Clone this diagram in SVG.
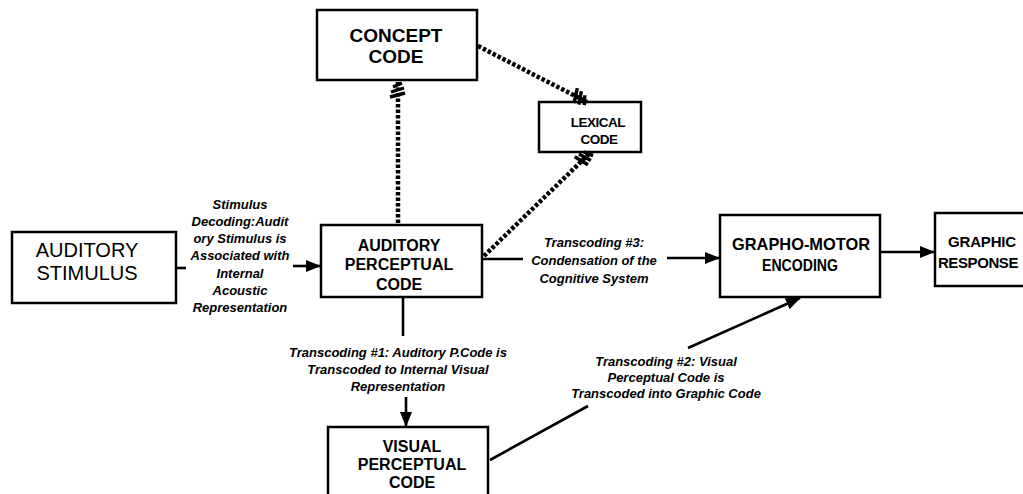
<svg xmlns="http://www.w3.org/2000/svg" width="1023" height="494" viewBox="0 0 1023 494">
<style>
.box{fill:#fff;stroke:#000;stroke-width:2.5}
.nt{font-family:"Liberation Sans",Arial,sans-serif;font-weight:bold;text-anchor:middle;fill:#000}
.lb{font-family:"Liberation Sans",Arial,sans-serif;font-weight:bold;font-style:italic;font-size:13px;text-anchor:middle;fill:#000}
.ln{fill:none;stroke:#000;stroke-width:2.6}
.ds{fill:none;stroke:#000;stroke-width:4.5;stroke-dasharray:3.5 2}
</style>
<defs>
<marker id="arr" markerUnits="userSpaceOnUse" markerWidth="15" markerHeight="12" refX="14" refY="6" orient="auto">
<path d="M0,0 L15,6 L0,12 z" fill="#000"/>
</marker>
<marker id="hatch" markerUnits="userSpaceOnUse" markerWidth="24" markerHeight="24" refX="20" refY="12" orient="auto">
<path d="M15,7 L19,16 M10,5 L14,18 M5,4 L9,19" stroke="#000" stroke-width="3.4" fill="none"/>
</marker>
</defs>
<g id="concept-code">
<rect class="box" x="317" y="10" width="160" height="70"/>
<text class="nt" font-size="19" x="396" y="42">CONCEPT</text>
<text class="nt" font-size="19" x="396" y="63">CODE</text>
</g>
<g id="lexical-code">
<rect class="box" x="539" y="102" width="102" height="50"/>
<text class="nt" font-size="13.5" letter-spacing="-0.5" x="598" y="127">LEXICAL</text>
<text class="nt" font-size="13.5" letter-spacing="-0.5" x="599" y="144">CODE</text>
</g>
<g id="auditory-stimulus">
<rect class="box" x="12" y="232" width="164" height="71"/>
<text class="nt" font-size="20" x="87" y="257" style="font-weight:normal">AUDITORY</text>
<text class="nt" font-size="20" x="87" y="280" style="font-weight:normal">STIMULUS</text>
</g>
<g id="auditory-perceptual-code">
<rect class="box" x="321" y="225" width="161" height="72"/>
<text class="nt" font-size="16" x="399" y="251">AUDITORY</text>
<text class="nt" font-size="16" x="399" y="270">PERCEPTUAL</text>
<text class="nt" font-size="16" x="399" y="290">CODE</text>
</g>
<g id="grapho-motor-encoding">
<rect class="box" x="720" y="215" width="160" height="82"/>
<text class="nt" font-size="17" x="801" y="250" textLength="138" lengthAdjust="spacingAndGlyphs">GRAPHO-MOTOR</text>
<text class="nt" font-size="17" x="800" y="271" textLength="76" lengthAdjust="spacingAndGlyphs">ENCODING</text>
</g>
<g id="graphic-response">
<rect class="box" x="935" y="213" width="100" height="73"/>
<text class="nt" font-size="15" letter-spacing="-0.2" x="982" y="247">GRAPHIC</text>
<text class="nt" font-size="15" letter-spacing="-0.4" x="978" y="268">RESPONSE</text>
</g>
<g id="visual-perceptual-code">
<rect class="box" x="328" y="427" width="160" height="80"/>
<text class="nt" font-size="16" x="412" y="452">VISUAL</text>
<text class="nt" font-size="16" x="412" y="470">PERCEPTUAL</text>
<text class="nt" font-size="16" x="412" y="488">CODE</text>
</g>
<g id="connectors">
<path class="ds" d="M398,223 V82" marker-end="url(#hatch)"/>
<path class="ds" d="M478,46 L587,102" marker-end="url(#hatch)"/>
<path class="ds" d="M484,256 L591,152" marker-end="url(#hatch)"/>
<path class="ln" d="M177,268 H186"/>
<path class="ln" d="M293,266 H320" marker-end="url(#arr)"/>
<path class="ln" d="M483,259 H523"/>
<path class="ln" d="M667,258 H719" marker-end="url(#arr)"/>
<path class="ln" d="M881,252 H934" marker-end="url(#arr)"/>
<path class="ln" d="M403,298 V336"/>
<path class="ln" d="M406,397 V426" marker-end="url(#arr)"/>
<path class="ln" d="M490,460 L588,406"/>
<path class="ln" d="M688,348 L800,298" marker-end="url(#arr)"/>
</g>
<g id="edge-labels">
<text class="lb"><tspan x="240" y="209">Stimulus</tspan><tspan x="240" y="226">Decoding:Audit</tspan><tspan x="240" y="243">ory Stimulus is</tspan><tspan x="240" y="260">Associated with</tspan><tspan x="240" y="278">Internal</tspan><tspan x="240" y="295">Acoustic</tspan><tspan x="240" y="312">Representation</tspan></text>
<text class="lb"><tspan x="594" y="247">Transcoding #3:</tspan><tspan x="594" y="265">Condensation of the</tspan><tspan x="594" y="283">Cognitive System</tspan></text>
<text class="lb"><tspan x="398" y="357">Transcoding #1: Auditory P.Code is</tspan><tspan x="398" y="374">Transcoded to Internal Visual</tspan><tspan x="398" y="391">Representation</tspan></text>
<text class="lb"><tspan x="666" y="366">Transcoding #2: Visual</tspan><tspan x="666" y="382">Perceptual Code is</tspan><tspan x="666" y="398">Transcoded into Graphic Code</tspan></text>
</g>
</svg>
